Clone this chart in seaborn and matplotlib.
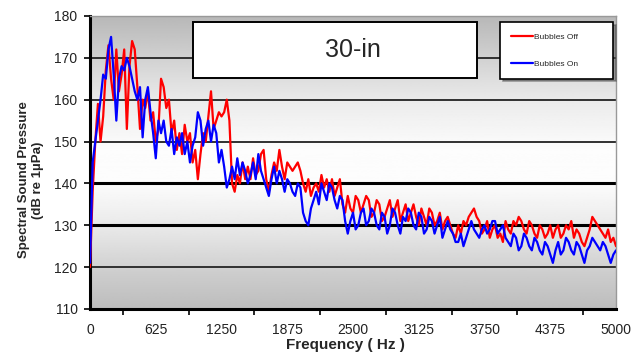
import numpy as np
import pandas as pd
import matplotlib
matplotlib.use('Agg')
import matplotlib.pyplot as plt
import seaborn as sns
from matplotlib.patches import Rectangle

# frequency grid: 25 Hz steps
freq_low = np.arange(0, 1501, 25)
freq_high = np.arange(1525, 5001, 25)

# Bubbles Off (red), dB re 1uPa
off_low = [120, 138, 150, 159, 150, 156, 167, 173, 165, 160, 172, 162, 166, 172, 153, 168,
           174, 172, 163, 153, 160, 158, 162, 155, 157, 150, 153, 165, 163, 158, 160, 152,
           155, 148, 152, 147, 154, 150, 152, 145, 148, 141, 147, 152, 150, 156, 162, 153,
           155, 157, 156, 157, 160, 155, 140, 138, 142, 140, 145, 141, 144]
off_high = [141, 146, 142, 143, 147, 148, 141, 138, 142, 145, 143, 148, 144, 141, 145, 144,
            143, 144, 145, 143, 140, 138, 141, 137, 139, 140, 138, 142, 139, 141, 138, 141,
            137, 139, 141, 135, 133, 137, 134, 133, 137, 136, 133, 135, 137, 136, 132, 133,
            136, 135, 131, 132, 134, 136, 132, 134, 136, 131, 133, 135, 131, 133, 135, 132,
            130, 134, 132, 130, 134, 133, 130, 131, 133, 129, 131, 132, 130, 128, 127, 130,
            128, 131, 130, 132, 133, 134, 132, 131, 128, 129, 131, 127, 129, 130, 127, 128,
            126, 131, 129, 128, 131, 130, 132, 131, 129, 128, 131, 130, 128, 127, 130, 129,
            127, 128, 130, 127, 129, 130, 127, 128, 130, 129, 131, 127, 129, 128, 126, 125,
            127, 129, 132, 131, 130, 129, 128, 127, 129, 126, 127, 125]

# Bubbles On (blue)
on_low = [121, 145, 150, 155, 160, 166, 165, 172, 175, 166, 155, 165, 168, 167, 170, 168,
          165, 162, 160, 163, 151, 160, 163, 157, 152, 146, 155, 152, 155, 150, 149, 153,
          147, 151, 149, 152, 147, 150, 145, 149, 151, 157, 155, 149, 153, 155, 150, 154,
          152, 145, 148, 144, 139, 141, 144, 141, 146, 142, 145, 143, 140]
on_high = [142, 145, 141, 147, 143, 141, 139, 137, 141, 144, 140, 143, 141, 138, 141, 140,
           138, 137, 140, 139, 133, 131, 130, 134, 136, 138, 135, 140, 138, 136, 140, 139,
           136, 134, 137, 136, 131, 128, 131, 133, 129, 130, 133, 134, 130, 131, 134, 133,
           130, 129, 133, 132, 128, 130, 134, 133, 130, 128, 132, 131, 134, 133, 130, 129,
           133, 132, 128, 129, 132, 131, 128, 130, 132, 127, 129, 131, 129, 128, 126, 126,
           128, 125, 127, 129, 131, 129, 128, 127, 129, 130, 128, 129, 131, 131, 128, 129,
           130, 127, 126, 125, 128, 127, 124, 125, 128, 127, 125, 124, 127, 126, 124, 123,
           126, 125, 123, 121, 124, 126, 123, 124, 127, 126, 124, 123, 126, 125, 123, 121,
           124, 125, 127, 126, 125, 124, 126, 125, 123, 121, 123, 124]

freq = np.concatenate([freq_low, freq_high])
df = pd.concat([
    pd.DataFrame({'freq': freq, 'spl': off_low + off_high, 'series': 'Bubbles Off'}),
    pd.DataFrame({'freq': freq, 'spl': on_low + on_high, 'series': 'Bubbles On'}),
])

sns.set_style('ticks')
plt.rcParams['font.family'] = ['Liberation Sans', 'DejaVu Sans']

fig = plt.figure(figsize=(6.34, 3.58), dpi=100)
ax = fig.add_axes([0.142, 0.137, 0.8296, 0.8184])

# grey gradient plot area (dark at top/bottom, white in the middle)
yy = np.linspace(110, 180, 300)
shade = np.interp(yy, [110, 118, 128, 140, 148, 160, 170, 180],
                  [0.74, 0.80, 0.90, 0.99, 0.99, 0.92, 0.82, 0.72])
ax.imshow(shade[:, None], cmap='gray', vmin=0, vmax=1, extent=[0, 5000, 110, 180],
          origin='lower', aspect='auto', zorder=0)

for v in [120, 150, 160, 170]:
    ax.axhline(v, color='#303030', lw=1.4, zorder=1)
for v in [130, 140]:
    ax.axhline(v, color='black', lw=2.2, zorder=1)

sns.lineplot(data=df, x='freq', y='spl', hue='series',
             hue_order=['Bubbles Off', 'Bubbles On'],
             palette={'Bubbles Off': '#ff0000', 'Bubbles On': '#0000ff'},
             estimator=None, lw=1.6, ax=ax, zorder=3)

ax.set_xlim(0, 5000)
ax.set_ylim(110, 180)

# title box
ax.add_patch(Rectangle((0.196, 0.788), 0.540, 0.191, transform=ax.transAxes,
                       facecolor='white', edgecolor='black', lw=1.4, zorder=4))
ax.text(0.447, 0.884, '30-in', transform=ax.transAxes, fontsize=18,
        va='center', ha='left', zorder=5)

leg = ax.legend(loc='upper left', bbox_to_anchor=(496/634, 1-73/358, 121/634, 55/358),
                bbox_transform=fig.transFigure, mode='expand', fontsize=6,
                labelspacing=2.3, borderpad=1.3, handlelength=2.6, handletextpad=0.1,
                frameon=True, fancybox=False, shadow=True, title=None)
leg.get_frame().set_edgecolor('black')
leg.get_frame().set_linewidth(1.2)
leg.get_frame().set_alpha(1)

for s in ['left', 'bottom']:
    ax.spines[s].set_color('black')
    ax.spines[s].set_linewidth(2.2)
for s in ['top', 'right']:
    ax.spines[s].set_color('#999999')
    ax.spines[s].set_linewidth(1)

ax.set_yticks(range(110, 181, 10))
ax.tick_params(axis='y', direction='out', length=4, width=1.2, color='black',
               pad=5, labelsize=10, labelcolor='#222222')
ax.set_xticks(np.arange(0, 5001, 625))
ax.set_xticks([312.5 + 625 * k for k in range(8)], minor=True)
ax.tick_params(axis='x', which='major', length=0, pad=10, labelsize=10,
               labelcolor='#222222')
ax.tick_params(axis='x', which='minor', direction='out', length=4, width=1.2,
               color='black')

ax.set_xlabel('Frequency ( Hz )', fontsize=11, fontweight='bold')
ax.set_ylabel('Spectral Sound Pressure\n(dB re 1µPa)', fontsize=9.5, fontweight='bold')
ax.xaxis.set_label_coords(0.485, -0.10)
ax.yaxis.set_label_coords(-0.088, 0.44)

fig.savefig('out.png', dpi=100)
